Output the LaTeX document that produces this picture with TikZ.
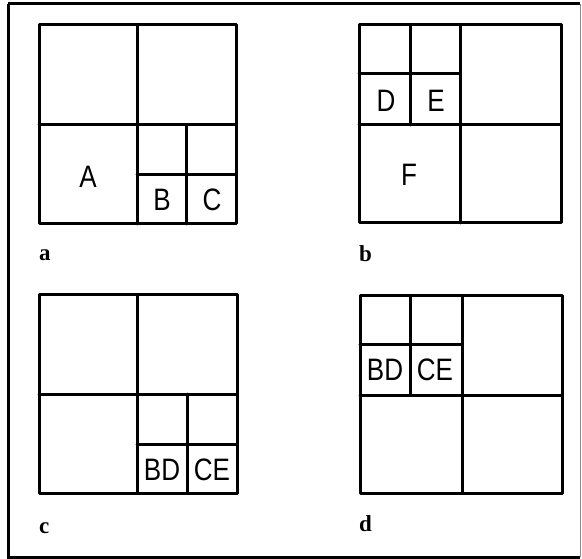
\documentclass[tikz,border=0pt]{standalone}
\usepackage{fontspec}
\newfontfamily\labfont[FakeStretch=0.84]{Liberation Sans}
\newfontfamily\capfont{Liberation Serif}
\begin{document}
\begin{tikzpicture}[x=1pt,y=-1pt,
  grid/.style={line width=3pt, line cap=round, line join=round},
  frame/.style={line width=3pt},
  cell/.style={font=\labfont\fontsize{31}{31}\selectfont, inner sep=0pt},
  tag/.style={font=\capfont\bfseries\fontsize{23}{23}\selectfont, inner sep=0pt, anchor=base west}]
\useasboundingbox (0,0) rectangle (582,559);
% outer frame
\draw[frame] (8,4) -- (8,557) -- (580,557);
\draw[frame] (8,4) -- (580,4);
\draw[line width=0.8pt, black!45] (580,4) -- (580,557);
% a
\draw[grid] (39,25) rectangle (236,224);
\draw[grid] (137,25) -- (137,224) (39,125) -- (236,125) (186,125) -- (186,224) (137,175) -- (236,175);
\node[cell] (A) at (88,177) {A};
\node[cell] (B) at (162,200) {B};
\node[cell] (C) at (212,200) {C};
\node[tag] (la) at (39,261) {a};
% b
\draw[grid] (359,25) rectangle (561,223);
\draw[grid] (460,25) -- (460,223) (359,125) -- (561,125) (410,25) -- (410,125) (359,74) -- (460,74);
\node[cell] (D) at (386,101) {D};
\node[cell] (E) at (436,101) {E};
\node[cell] (F) at (409,175) {F};
\node[tag] (lb) at (359,262) {b};
% c
\draw[grid] (39,295) rectangle (237,493);
\draw[grid] (137,295) -- (137,493) (39,394) -- (237,394) (187,394) -- (187,493) (137,444) -- (237,444);
\node[cell] (BD1) at (162,470) {BD};
\node[cell] (CE1) at (212,470) {CE};
\node[tag] (lc) at (39,533) {c};
% d
\draw[grid] (360,296) rectangle (562,493);
\draw[grid] (462,296) -- (462,493) (360,395) -- (562,395) (410,296) -- (410,395) (360,345) -- (462,345);
\node[cell] (BD2) at (385,370) {BD};
\node[cell] (CE2) at (435,370) {CE};
\node[tag] (ld) at (359,531) {d};
\end{tikzpicture}
\end{document}
